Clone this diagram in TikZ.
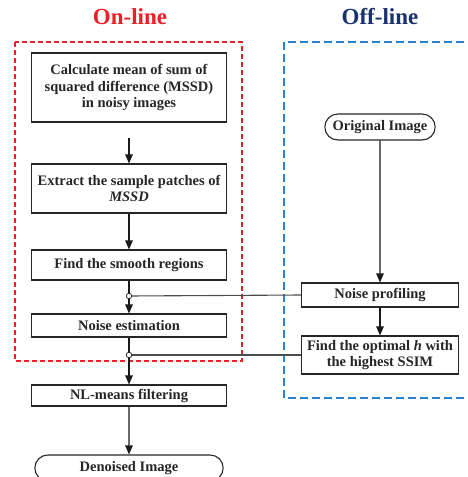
\documentclass[tikz,border=0pt]{standalone}
\usepackage{fontspec}
\setmainfont{Liberation Serif}
\usepackage{tikz}
\usetikzlibrary{
  arrows.meta,
  positioning,
  shapes.misc
}
\definecolor{onred}{RGB}{240, 30, 40}
\definecolor{offblue}{RGB}{40, 130, 205}
\definecolor{offtitle}{RGB}{25, 50, 110}

\begin{document}
\begin{tikzpicture}[
  x=1pt, y=-1pt,
  box/.style={rectangle, draw=black!85, line width=1.1pt, minimum width=195pt, minimum height=#1, align=center, font=\bfseries\fontsize{14.5}{16.5}\selectfont, text=black!85, inner sep=1pt},
  term/.style={rounded rectangle, draw=black!85, line width=1.1pt, minimum height=26pt, align=center, font=\bfseries\fontsize{14.5}{16.5}\selectfont, text=black!85},
  arrow/.style={-{Triangle[length=9pt, width=7.5pt]}, line width=1.1pt, color=black!90},
  link/.style={line width=1.1pt, color=black!70},
  junction/.style={circle, draw=black!85, fill=white, line width=0.8pt, inner sep=0pt, minimum size=5.5pt},
  region/.style={dashed, line width=1.1pt, draw=#1}
]
\useasboundingbox (0,0) rectangle (467,477);
\clip (0,0) rectangle (467,477);

% Titles
\node[font=\bfseries\fontsize{23}{26}\selectfont, text=onred] (ontitle) at (130,17) {On-line};
\node[font=\bfseries\fontsize{23}{26}\selectfont, text=offtitle] (offtitle) at (380,17) {Off-line};

% Dashed regions
\draw[region=onred, dash pattern=on 5pt off 3pt] (15,42) rectangle (242,361);
\draw[region=offblue, dash pattern=on 8pt off 4pt] (284,42) rectangle (480,398);

% On-line column
\node[box=69pt] (mssd) at (129,87.5) {Calculate mean of sum of\\squared difference (MSSD)\\in noisy images};
\node[box=49pt] (patches) at (129,188.5) {Extract the sample patches of\\\textit{MSSD}};
\node[box=30pt] (smooth) at (129,265) {Find the smooth regions};
\node[box=23pt] (estimate) at (129,325.5) {Noise estimation};
\node[box=21pt] (nlmeans) at (129,395.5) {NL-means filtering};
\node[term, minimum width=195pt] (denoised) at (129,468) {Denoised Image};

% Off-line column
\node[term, minimum width=117pt] (original) at (380,127) {Original Image};
\node[box=24pt, minimum width=157pt] (profiling) at (380,295) {Noise profiling};
\node[box=38pt, minimum width=157pt] (optimal) at (380,355) {Find the optimal \textit{h} with\\the highest SSIM};

% Junctions
\node[junction] (join1) at (129,296) {};
\node[junction] (join2) at (129,355) {};
\coordinate (start) at (129,138);

% Arrows on-line
\draw[arrow] (start) -- (patches);
\draw[arrow] (patches) -- (smooth);
\draw[link, color=black!90] (smooth) -- (join1);
\draw[arrow] (join1) -- (estimate);
\draw[link, color=black!90] (estimate) -- (join2);
\draw[arrow] (join2) -- (nlmeans);
\draw[arrow] (nlmeans) -- (denoised);

% Arrows off-line
\draw[arrow] (original) -- (profiling);
\draw[arrow] (profiling) -- (optimal);
\draw[link] (profiling.west) -- (join1);
\draw[link] (optimal.west) -- (join2);

\end{tikzpicture}
\end{document}
